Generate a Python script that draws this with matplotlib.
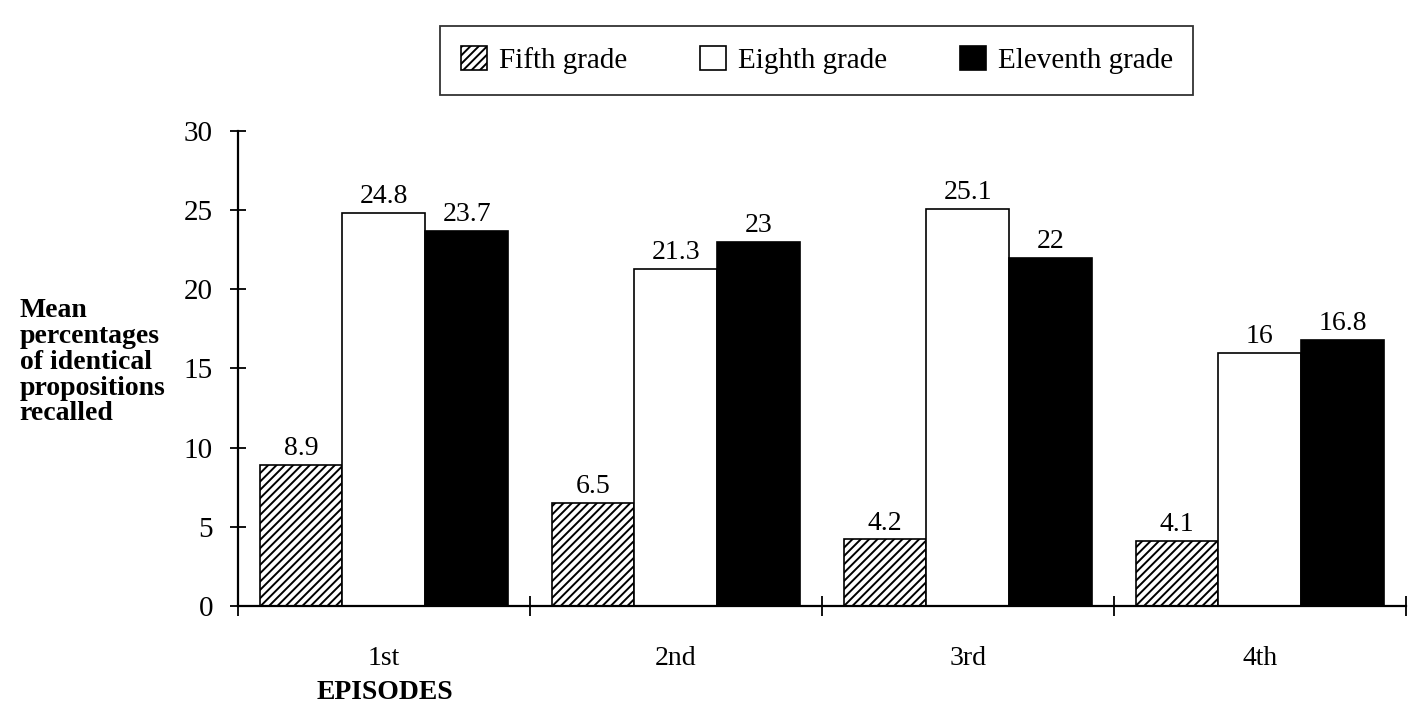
import matplotlib
matplotlib.use("Agg")
import matplotlib.pyplot as plt
import numpy as np

episodes = ["1st", "2nd", "3rd", "4th"]
series_names = ["Fifth grade", "Eighth grade", "Eleventh grade"]
fifth = [8.9, 6.5, 4.2, 4.1]
eighth = [24.8, 21.3, 25.1, 16.0]
eleventh = [23.7, 23.0, 22.0, 16.8]
value_labels = [["8.9", "6.5", "4.2", "4.1"],
                ["24.8", "21.3", "25.1", "16"],
                ["23.7", "23", "22", "16.8"]]
yticks = [0, 5, 10, 15, 20, 25, 30]

plt.rcParams['font.family'] = ['Liberation Serif', 'DejaVu Serif']
plt.rcParams['hatch.linewidth'] = 1.4

fig = plt.figure(figsize=(14.08, 7.07), dpi=100)
ax = fig.add_axes([0.169, 0.1429, 0.8295, 0.6718])

x = np.arange(len(episodes))
w = 0.284
offs = [-w, 0, w]
styles = [dict(facecolor="white", hatch="////", edgecolor="black"),
          dict(facecolor="white", edgecolor="black"),
          dict(facecolor="black", edgecolor="black")]
series = [fifth, eighth, eleventh]
handles = []
for i, (vals, st) in enumerate(zip(series, styles)):
    b = ax.bar(x + 0.5 + offs[i], vals, width=w, linewidth=1.2,
               label=series_names[i], **st)
    handles.append(b)
    for xi, v, lab in zip(x + 0.5 + offs[i], vals, value_labels[i]):
        ax.text(xi, v + 0.25, lab, ha="center", va="bottom", fontsize=20)

ax.set_xlim(0, 4)
ax.set_ylim(0, 30)
ax.set_yticks(yticks)
ax.set_yticklabels([str(t) for t in yticks], fontsize=21)
ax.set_xticks(x + 0.5)
ax.set_xticklabels(episodes, fontsize=20)
ax.set_xticks(np.arange(0, 5), minor=True)
ax.tick_params(axis="x", which="major", length=0, pad=29)
ax.tick_params(axis="x", which="minor", direction="inout", length=14, width=1.3)
ax.tick_params(axis="y", which="major", direction="inout", length=12, width=1.3, pad=12)
for s in ["top", "right"]:
    ax.spines[s].set_visible(False)
ax.spines["left"].set_linewidth(1.6)
ax.spines["bottom"].set_linewidth(1.6)

fig.text(0.014, 0.578, "Mean\npercentages\nof identical\npropositions\nrecalled",
         fontsize=20, fontweight="bold", ha="left", va="top", linespacing=1.04)
fig.text(0.273, 0.021, "EPISODES", fontsize=20, fontweight="bold", ha="center", va="center")

leg = fig.legend(handles=handles, loc="center", bbox_to_anchor=(0.580, 0.915),
                 ncol=3, fontsize=21, frameon=True, fancybox=False,
                 edgecolor="black", handlelength=0.9, handleheight=0.9,
                 columnspacing=2.5, borderpad=0.7, handletextpad=0.4)
leg.get_frame().set_linewidth(1.3)

fig.savefig("out.png", dpi=100)
